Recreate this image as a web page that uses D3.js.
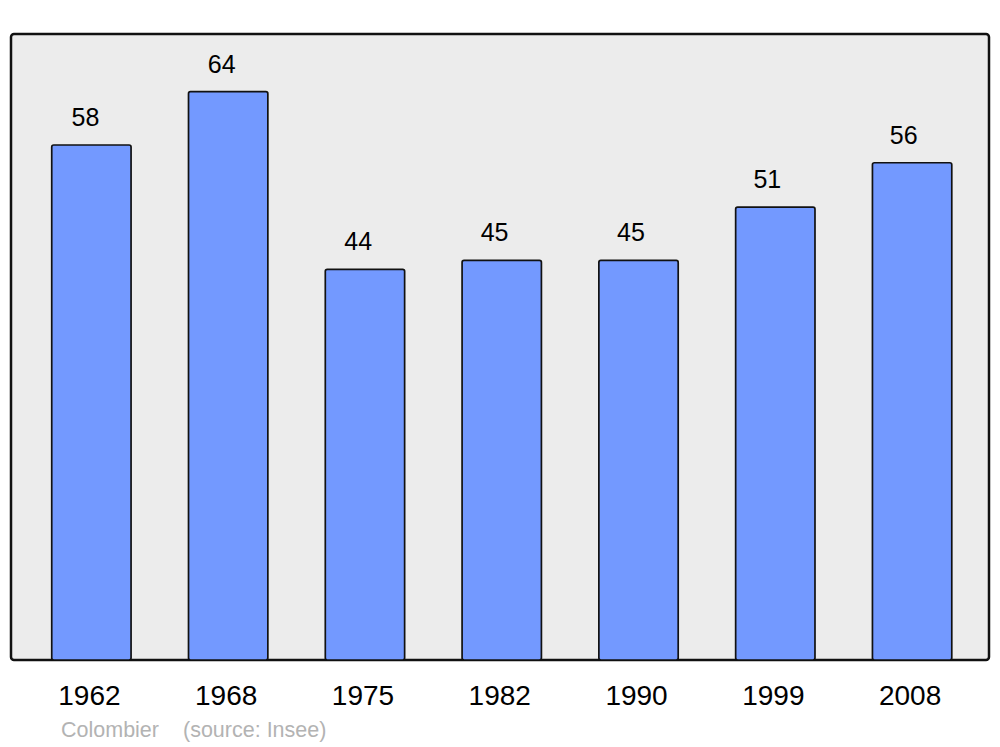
<!DOCTYPE html>
<html>
<head>
<meta charset="utf-8">
<script src="https://cdn.jsdelivr.net/npm/d3@7"></script>
<style>
  body { margin: 0; background: #fff; }
  text { font-family: "Liberation Sans", Arial, sans-serif; }
</style>
</head>
<body>
<div id="chart"></div>
<script>
// data
var years = ["1962", "1968", "1975", "1982", "1990", "1999", "2008"];
var population = [58, 64, 44, 45, 45, 51, 56];
var placeName = "Colombier";
var sourceNote = "(source: Insee)";

var svgWidth = 1000;
var svgHeight = 747;

// plot frame
var frame = { left: 11, top: 34, right: 989, bottom: 660 };

var svg = d3.select("#chart")
  .append("svg")
  .attr("width", svgWidth)
  .attr("height", svgHeight);

svg.append("rect")
  .attr("x", frame.left)
  .attr("y", frame.top)
  .attr("width", frame.right - frame.left)
  .attr("height", frame.bottom - frame.top)
  .attr("rx", 3)
  .attr("fill", "#ececec")
  .attr("stroke", "#111")
  .attr("stroke-width", 2.5);

// scales
var x = d3.scaleBand()
  .domain(years)
  .range([23, 980.5])
  .paddingInner(0.42)
  .paddingOuter(0.21);

var y = d3.scaleLinear()
  .domain([0, 70.5])
  .range([frame.bottom, frame.top]);

var rows = years.map(function(yr, i) { return { year: yr, value: population[i] }; });

// bars
svg.selectAll(".bar")
  .data(rows)
  .enter()
  .append("rect")
  .attr("class", "bar")
  .attr("x", d => x(d.year))
  .attr("y", d => y(d.value))
  .attr("width", x.bandwidth())
  .attr("height", d => y(0) - y(d.value))
  .attr("rx", 2)
  .attr("fill", "#7399ff")
  .attr("stroke", "#111")
  .attr("stroke-width", 1.7);

// value labels, drift slightly left across the chart like the original
svg.selectAll(".val")
  .data(rows)
  .enter()
  .append("text")
  .attr("class", "val")
  .attr("x", (d, i) => x(d.year) + x.bandwidth() / 2 - 6 - i * 0.4)
  .attr("y", d => y(d.value) - 19)
  .attr("text-anchor", "middle")
  .attr("font-size", "25px")
  .attr("fill", "#000")
  .text(d => d.value);

// year labels (x axis without line/ticks)
var xAxis = svg.append("g")
  .attr("transform", `translate(-2, ${frame.bottom})`)
  .call(d3.axisBottom(x).tickSize(0).tickPadding(25));
xAxis.select(".domain").remove();
xAxis.selectAll("text")
  .attr("font-size", "28px")
  .attr("font-family", "'Liberation Sans', Arial, sans-serif")
  .attr("fill", "#000");

// footer
svg.append("text")
  .attr("x", 61)
  .attr("y", 737)
  .attr("font-size", "21.5px")
  .attr("fill", "#b3b3b3")
  .text(placeName);

svg.append("text")
  .attr("x", 183)
  .attr("y", 737)
  .attr("font-size", "21.5px")
  .attr("fill", "#b3b3b3")
  .text(sourceNote);
</script>
</body>
</html>
